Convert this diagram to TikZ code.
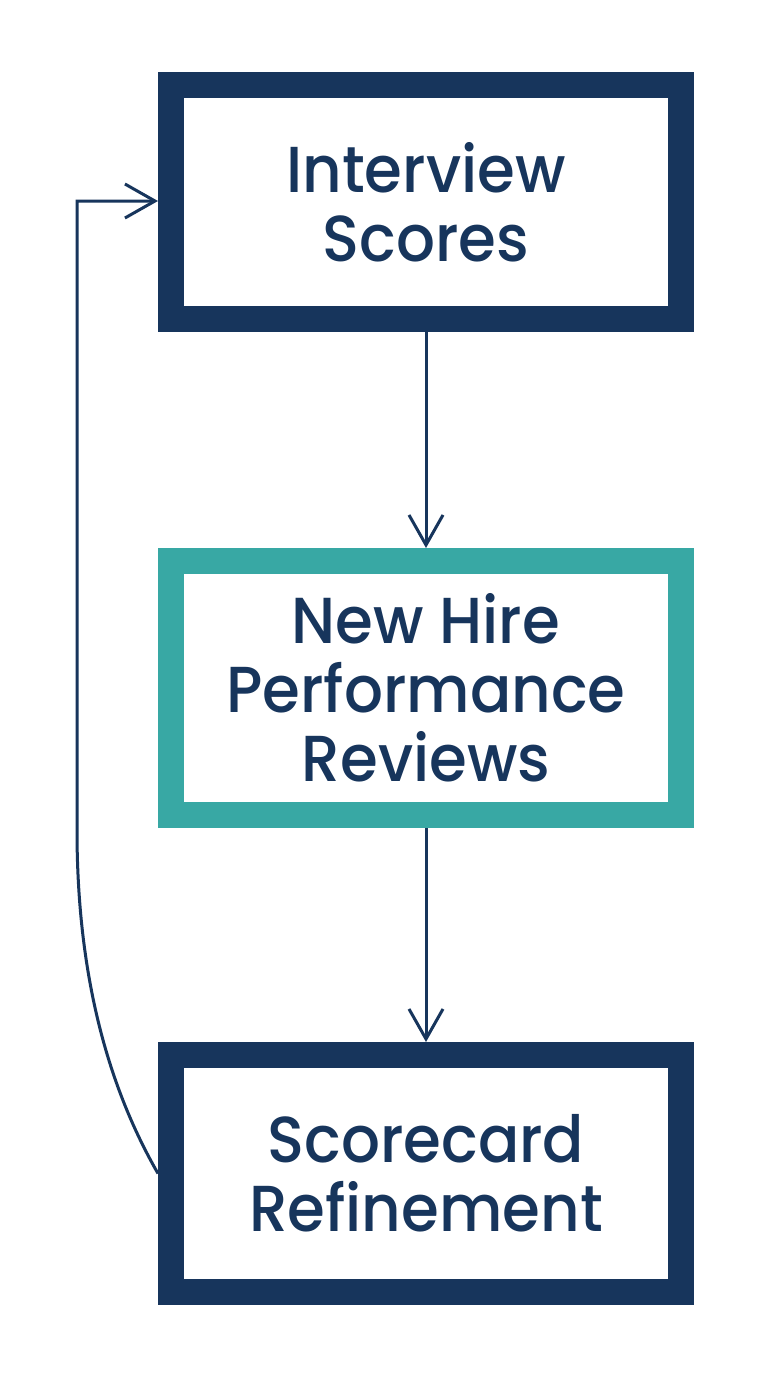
\documentclass[tikz,border=0pt]{standalone}
\usepackage{fontspec}
\setmainfont{Poppins}[UprightFont=* Medium,FakeStretch=0.94]
\usetikzlibrary{arrows.meta}
\definecolor{navy}{RGB}{23,53,92}
\definecolor{teal}{RGB}{56,168,164}
\begin{document}
\begin{tikzpicture}[x=1pt,y=-1pt,
  box/.style={draw=navy,line width=26pt,fill=white,minimum width=510pt,
    text=navy,align=center,font=\fontsize{65}{69}\selectfont,inner sep=0pt},
  conn/.style={draw=navy,line width=3pt,
    -{Straight Barb[length=30pt,width=34pt,line width=3pt]}}]
\useasboundingbox (0,0) rectangle (768,1376);
\fill[white] (0,0) rectangle (768,1376);
\node[box,minimum height=234pt] (a) at (426,202) {Interview\\Scores};
\node[box,draw=teal,minimum height=254pt] (b) at (426,688) {New Hire\\Performance\\Reviews};
\node[box,minimum height=237pt] (c) at (426,1173.5) {Scorecard\\Refinement};
\draw[conn] (a.south) -- (b.north);
\draw[conn] (b.south) -- (c.north);
\coordinate (k) at (77,201);
\draw[conn] (c.west) .. controls (110,1090) and (77,980) .. (77,830) -- (k) -- (a.west |- k);
\end{tikzpicture}
\end{document}
